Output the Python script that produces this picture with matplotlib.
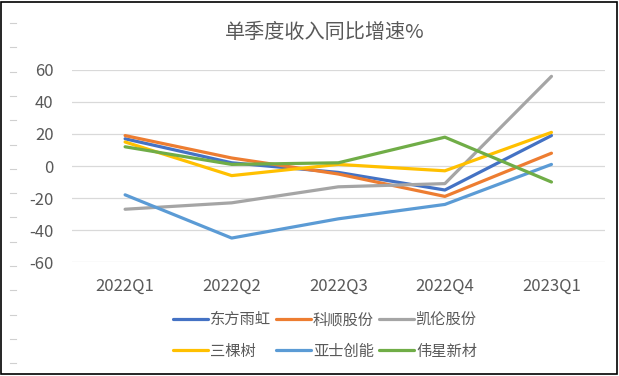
import matplotlib
matplotlib.use("Agg")
import matplotlib.pyplot as plt
import matplotlib.patches as mpatches
from matplotlib.lines import Line2D
import numpy as np

plt.rcParams.update({
    "font.family": ["Noto Sans CJK SC", "DejaVu Sans"],
    "axes.unicode_minus": False,
    "figure.facecolor": "white",
})

# ── 数据 ─────────────────────────────────────────────
quarters = ["2022Q1", "2022Q2", "2022Q3", "2022Q4", "2023Q1"]
names = ["东方雨虹", "科顺股份", "凯伦股份", "三棵树", "亚士创能", "伟星新材"]
dfyh = [17, 2, -4, -15, 19]      # 东方雨虹
ksgf = [19, 5, -5, -19, 8]       # 科顺股份
klgf = [-27, -23, -13, -11, 56]  # 凯伦股份
sks = [15, -6, 1, -3, 21]        # 三棵树
ascn = [-18, -45, -33, -24, 1]   # 亚士创能
wxxc = [12, 1, 2, 18, -10]       # 伟星新材
yticks = [-60, -40, -20, 0, 20, 40, 60]

series = [dfyh, ksgf, klgf, sks, ascn, wxxc]
colors = ["#4472C4", "#ED7D31", "#A5A5A5", "#FFC000", "#5B9BD5", "#70AD47"]
txt_color = "#595959"

# ── 画布 ─────────────────────────────────────────────
fig = plt.figure(figsize=(6.19, 3.76), dpi=100)
ax = fig.add_axes([0.116, 0.303, 0.861, 0.511])

x = np.arange(len(quarters))
handles = []
for vals, c, n in zip(series, colors, names):
    h, = ax.plot(x, vals, color=c, lw=2.3, label=n, solid_capstyle="round",
                 solid_joinstyle="round", clip_on=False, zorder=3)
    handles.append(h)

ax.set_xlim(-0.5, len(quarters) - 0.5)
ax.set_ylim(-60, 60)
ax.set_yticks(yticks)
ax.set_yticklabels([str(v) for v in yticks])
ax.set_xticks(x)
ax.set_xticklabels(quarters)
ax.tick_params(axis="y", length=0, pad=13, labelsize=12, colors=txt_color)
ax.tick_params(axis="x", length=0, pad=11.5, labelsize=12, colors=txt_color)
ax.grid(axis="y", color="#D9D9D9", lw=0.9, zorder=0)
for s in ax.spines.values():
    s.set_visible(False)

fig.text(0.525, 0.913, "单季度收入同比增速%", ha="center", va="center",
         fontsize=14.5, color=txt_color)

# 图例（按行排列：matplotlib 按列填充，故重排）
order = [0, 3, 1, 4, 2, 5]
fig.legend([handles[i] for i in order], [names[i] for i in order],
           loc="center", bbox_to_anchor=(0.525, 0.108), ncol=3,
           frameon=False, fontsize=11, labelcolor=txt_color,
           handlelength=2.3, handletextpad=0.13, columnspacing=0.33,
           labelspacing=0.95, borderpad=0)

# 左侧浅灰短线 + 外框
for yy in np.arange(23, 370, 24.3):
    fig.add_artist(Line2D([10 / 619, 16 / 619], [1 - yy / 376, 1 - yy / 376],
                          transform=fig.transFigure, color="#D0D0D0", lw=0.8))
fig.add_artist(mpatches.Rectangle((0.002, 0.004), 0.994, 0.992,
                                  transform=fig.transFigure, fill=False,
                                  edgecolor="black", lw=1.2))

fig.savefig("out.png", dpi=100, facecolor="white")
